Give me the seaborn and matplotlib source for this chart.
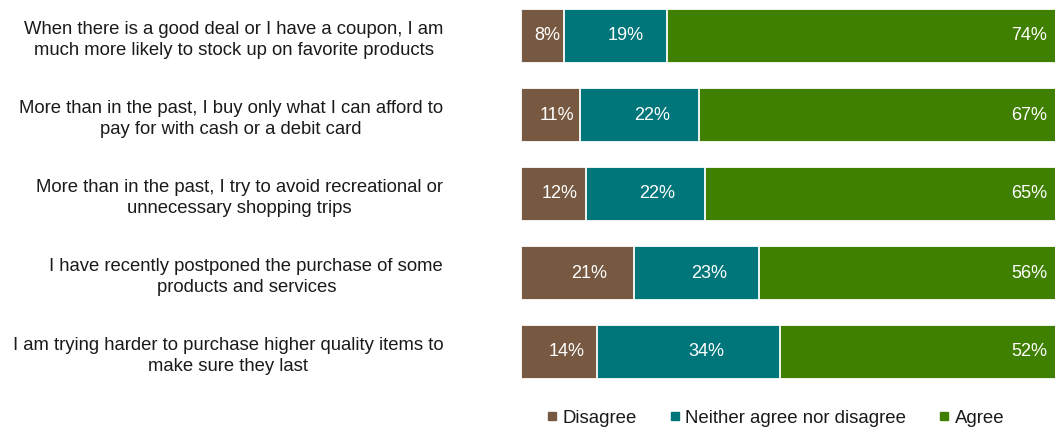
import matplotlib
matplotlib.use("Agg")
import matplotlib.pyplot as plt
from matplotlib.lines import Line2D
import seaborn as sns
import pandas as pd

statements = [
    "When there is a good deal or I have a coupon, I am\nmuch more likely to stock up on favorite products",
    "More than in the past, I buy only what I can afford to\npay for with cash or a debit card",
    "More than in the past, I try to avoid recreational or\nunnecessary shopping trips",
    "I have recently postponed the purchase of some\nproducts and services",
    "I am trying harder to purchase higher quality items to\nmake sure they last",
]
disagree = [8, 11, 12, 21, 14]
neither = [19, 22, 22, 23, 34]
agree = [74, 67, 65, 56, 52]
series_names = ["Disagree", "Neither agree nor disagree", "Agree"]
colors = ["#775840", "#00757a", "#408000"]

sns.set_theme(style="white")
plt.rcParams["font.family"] = ["Liberation Sans", "DejaVu Sans"]

df = pd.DataFrame({"statement": statements, "Disagree": disagree,
                   "Neither agree nor disagree": neither, "Agree": agree})
df["cum1"] = df["Disagree"]
df["cum2"] = df["Disagree"] + df["Neither agree nor disagree"]
df["cum3"] = df["cum2"] + df["Agree"]

W, H = 1055, 430
fig = plt.figure(figsize=(W / 100, H / 100), dpi=100)
# axes spans x from px 521 to 1061 (0-100%), rows centred at 36..352 px
ax = fig.add_axes([521 / W, (H - 391.5) / H, 540 / W, 395 / H])

bar_h = 0.68
edge = dict(edgecolor="white", linewidth=1.3)
# stacked by overlaying cumulative totals, longest first
for col, c in [("cum3", colors[2]), ("cum2", colors[1]), ("cum1", colors[0])]:
    sns.barplot(data=df, x=col, y="statement", orient="h", color=c,
                width=bar_h, ax=ax, saturation=1, **edge)

ax.set_xlim(0, 100)
ax.set_ylim(4.5, -0.5)
ax.set_xlabel("")
ax.set_ylabel("")
ax.set_xticks([])
sns.despine(ax=ax, left=True, bottom=True)
ax.tick_params(axis="y", length=0, pad=56, labelsize=13.3)
for lab in ax.get_yticklabels():
    lab.set_multialignment("center")
    lab.set_linespacing(1.3)
    lab.set_color("#1a1a1a")

# segment value labels
for i in range(len(statements)):
    starts = [0, disagree[i]]
    widths = [disagree[i], neither[i]]
    for s, w in zip(starts, widths):
        ax.text(s + 0.6 * w, i, f"{w}%", ha="center", va="center",
                color="white", fontsize=13)
    ax.annotate(f"{agree[i]}%", xy=(100, i), xytext=(-14, 0),
                textcoords="offset pixels", ha="right", va="center",
                color="white", fontsize=13)

handles = [Line2D([0], [0], marker="s", linestyle="", markersize=5.5,
                  markerfacecolor=c, markeredgecolor=c) for c in colors]
leg = fig.legend(handles, series_names, loc="center", ncol=3, frameon=False,
                 bbox_to_anchor=(776 / W, 1 - 418 / H), fontsize=13.4,
                 handlelength=0.5, handletextpad=0.3, columnspacing=1.8)
for t in leg.get_texts():
    t.set_color("#1a1a1a")

fig.savefig("out.png", dpi=100)
